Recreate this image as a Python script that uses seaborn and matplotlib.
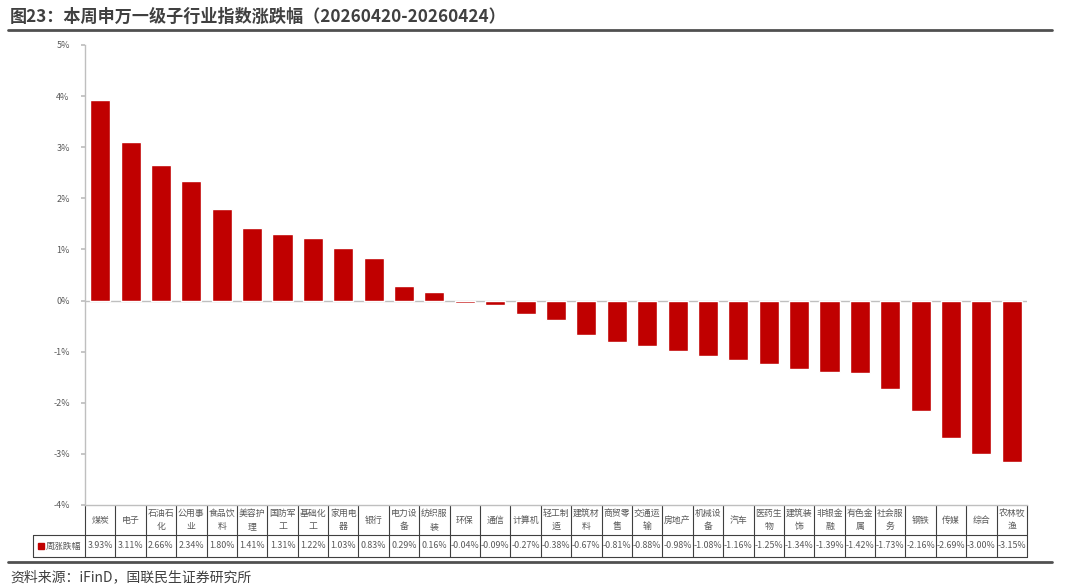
import numpy as np
import pandas as pd
import seaborn as sns
import matplotlib.pyplot as plt
from matplotlib.lines import Line2D
from matplotlib.patches import Rectangle

sns.set_theme(style='white')
plt.rcParams['font.family'] = ['Noto Sans CJK SC', 'DejaVu Sans']
plt.rcParams['axes.unicode_minus'] = False

industries = ['煤炭', '电子', '石油石化', '公用事业', '食品饮料', '美容护理', '国防军工', '基础化工',
              '家用电器', '银行', '电力设备', '纺织服装', '环保', '通信', '计算机', '轻工制造',
              '建筑材料', '商贸零售', '交通运输', '房地产', '机械设备', '汽车', '医药生物', '建筑装饰',
              '非银金融', '有色金属', '社会服务', '钢铁', '传媒', '综合', '农林牧渔']
weekly_change = [3.93, 3.11, 2.66, 2.34, 1.80, 1.41, 1.31, 1.22,
                 1.03, 0.83, 0.29, 0.16, -0.04, -0.09, -0.27, -0.38,
                 -0.67, -0.81, -0.88, -0.98, -1.08, -1.16, -1.25, -1.34,
                 -1.39, -1.42, -1.73, -2.16, -2.69, -3.00, -3.15]
y_ticks = [-4, -3, -2, -1, 0, 1, 2, 3, 4, 5]
series_name = '周涨跌幅'

title = '图23：本周申万一级子行业指数涨跌幅（20260420-20260424）'
source = '资料来源：iFinD，国联民生证券研究所'

bar_color = '#C00000'
grid_color = '#BFBFBF'
table_line = '#404040'
text_color = '#595959'

df = pd.DataFrame({'industry': industries, 'change': weekly_change})

fig = plt.figure(figsize=(10.8, 5.86), dpi=100)
ax = fig.add_axes([85 / 1080, 1 - 505 / 586, 942 / 1080, 460 / 586])

sns.barplot(data=df, x='industry', y='change', color=bar_color, saturation=1,
            width=0.66, ax=ax)

n = len(industries)
ax.set_xlim(-0.5, n - 0.5)
ax.set_ylim(-4, 5)
ax.set_yticks(y_ticks)
ax.set_yticklabels([f'{v}%' for v in y_ticks], fontsize=6.5, color=text_color)
ax.set_xticks(np.arange(n + 1) - 0.5)
ax.set_xticklabels([])
ax.set_xlabel('')
ax.set_ylabel('')
ax.tick_params(axis='y', length=3, color=grid_color, direction='out', left=True, pad=8)
ax.tick_params(axis='x', length=0)
ax.axhline(0, color=grid_color, lw=1, zorder=0)

for side in ['top', 'right']:
    ax.spines[side].set_visible(False)
for side in ['left', 'bottom']:
    ax.spines[side].set_color(grid_color)
    ax.spines[side].set_linewidth(1)


def wrap(name):
    if len(name) == 4:
        return name[:3] + '\n' + name[3:]
    return name


# data table under the axis
trans = ax.get_xaxis_transform()
h1 = 30 / 460
h2 = 52 / 460
label_left = -0.5 - 52 / 942 * n
for i, name in enumerate(industries):
    ax.text(i, -h1 / 2, wrap(name), transform=trans, ha='center', va='center',
            fontsize=6.4, color=text_color, linespacing=1.6)
    ax.text(i, -(h1 + h2) / 2, f'{weekly_change[i]:.2f}%', transform=trans,
            ha='center', va='center', fontsize=6.4, color=text_color)
for k in range(n + 1):
    x = k - 0.5
    ax.plot([x, x], [0, -h2], transform=trans, color=table_line, lw=0.8, clip_on=False)
ax.plot([label_left, n - 0.5], [-h1, -h1], transform=trans, color=table_line, lw=0.8, clip_on=False)
ax.plot([label_left, n - 0.5], [-h2, -h2], transform=trans, color=table_line, lw=0.8, clip_on=False)
ax.plot([label_left, label_left], [-h1, -h2], transform=trans, color=table_line, lw=0.8, clip_on=False)
ax.add_patch(Rectangle((label_left + 0.17, -(h1 + h2) / 2 - 0.006), 0.2, 0.013,
                       transform=trans, color=bar_color, clip_on=False))
ax.text(label_left + 0.43, -(h1 + h2) / 2, series_name, transform=trans,
        ha='left', va='center', fontsize=6.4, color=text_color)

# title, rules and source
fig.text(10 / 1080, 1 - 17 / 586, title, fontsize=12.3, fontweight='bold',
         color='#404040', ha='left', va='center')
fig.add_artist(Line2D([8 / 1080, 1052 / 1080], [1 - 30 / 586] * 2, color='#505050', lw=2))
fig.add_artist(Line2D([8 / 1080, 1052 / 1080], [1 - 562 / 586] * 2, color='#505050', lw=2))
fig.text(10 / 1080, 1 - 577 / 586, source, fontsize=10, color='#404040',
         ha='left', va='center')

fig.savefig('out.png', dpi=100)
